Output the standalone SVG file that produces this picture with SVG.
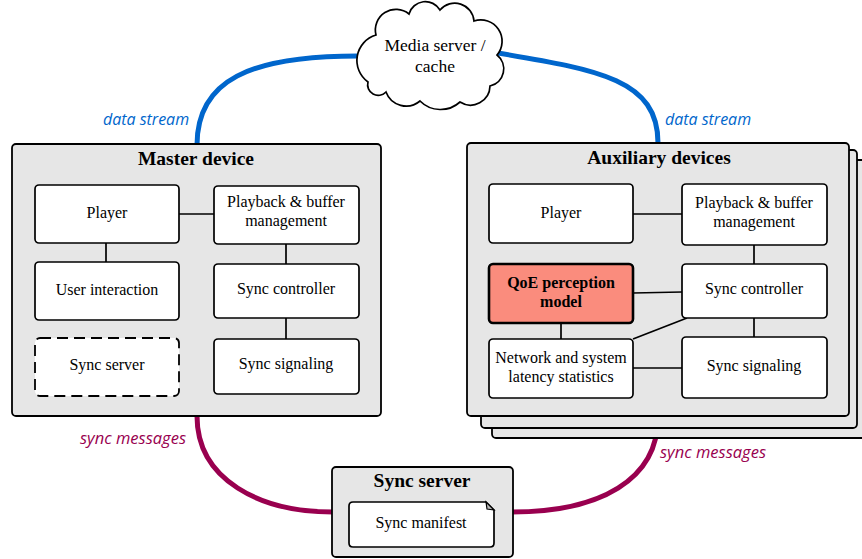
<svg xmlns="http://www.w3.org/2000/svg" width="862" height="559" viewBox="0 0 862 559">
<style>
.container{fill:#e6e6e6;stroke:#000;stroke-width:1.8}
.node{fill:#fff;stroke:#000;stroke-width:1.7}
.dashed{fill:#fff;stroke:#000;stroke-width:1.8;stroke-dasharray:11 6}
.qoe{fill:#fa8c7d;stroke:#000;stroke-width:2.6}
.t{font-family:"Liberation Serif","Times New Roman",serif;font-size:16px;fill:#000;text-anchor:middle}
.tb{font-family:"Liberation Serif","Times New Roman",serif;font-size:16px;font-weight:bold;fill:#000;text-anchor:middle}
.cloudt{font-family:"Liberation Serif","Times New Roman",serif;font-size:17.5px;fill:#000;text-anchor:middle}
.title{font-family:"Liberation Serif","Times New Roman",serif;font-size:19.5px;font-weight:bold;fill:#000;text-anchor:middle}
.link{stroke:#000;stroke-width:1.7;fill:none}
.blue{stroke:#0066cc;stroke-width:5;fill:none}
.purple{stroke:#99004f;stroke-width:5;fill:none}
.lblue{font-family:"Open Sans","Noto Sans",sans-serif;font-style:italic;font-size:16px;fill:#0066cc;text-anchor:middle}
.lpurple{font-family:"Open Sans","Noto Sans",sans-serif;font-style:italic;font-size:16.5px;fill:#99004f;text-anchor:middle}
</style>

<!-- long-range connectors -->
<g id="connectors-main">
  <path class="blue" d="M197,145 C197,80 250,56 358,56"/>
  <path class="blue" d="M498,53 C600,70 658,80 658,143"/>
  <path class="purple" d="M197,416 C197,480 260,512 333,512"/>
  <path class="purple" d="M658,417 C658,480 600,512 512,512"/>
  <text class="lblue" x="146" y="125">data stream</text>
  <text class="lblue" x="708" y="125">data stream</text>
  <text class="lpurple" x="133" y="444">sync messages</text>
  <text class="lpurple" x="713" y="458">sync messages</text>
</g>

<g id="media-server">
  <path d="M368,82 A26.5 26.5 0 0 1 376,35 A20.6 20.6 0 0 1 409,14 A17 17 0 0 1 440,10 A19.3 19.3 0 0 1 474,21 A21.3 21.3 0 0 1 497,55 A17.6 17.6 0 0 1 490,86 A19.5 19.5 0 0 1 460,102 A29 29 0 0 1 420,101 A21.5 21.5 0 0 1 386,92 A10.6 10.6 0 0 1 368,82 Z" fill="#fff" stroke="#000" stroke-width="1.7"/>
  <text class="cloudt" x="435" y="51">Media server /</text>
  <text class="cloudt" x="435" y="72">cache</text>
</g>

<!-- Master device -->
<g id="master-device">
  <rect class="container" x="12" y="144" width="369" height="272" rx="4"/>
  <text class="title" x="196" y="165">Master device</text>
</g>
<g id="master-connectors">
  <line class="link" x1="179" y1="214" x2="214" y2="214"/>
  <line class="link" x1="106" y1="243" x2="106" y2="262"/>
  <line class="link" x1="286" y1="244" x2="286" y2="264"/>
  <line class="link" x1="286" y1="318" x2="286" y2="339"/>
</g>
<g id="m-player">
  <rect class="node" x="35" y="185" width="144" height="58" rx="4"/>
  <text class="t" x="107" y="218">Player</text>
</g>
<g id="m-playback">
  <rect class="node" x="214" y="186" width="145" height="58" rx="4"/>
  <text class="t" x="286" y="207">Playback &amp; buffer</text>
  <text class="t" x="286" y="226">management</text>
</g>
<g id="m-user">
  <rect class="node" x="35" y="262" width="144" height="58" rx="4"/>
  <text class="t" x="107" y="295">User interaction</text>
</g>
<g id="m-syncctrl">
  <rect class="node" x="214" y="264" width="145" height="54" rx="4"/>
  <text class="t" x="286" y="294">Sync controller</text>
</g>
<g id="m-syncserver">
  <rect class="dashed" x="35" y="338" width="144" height="58" rx="5"/>
  <text class="t" x="107" y="370">Sync server</text>
</g>
<g id="m-syncsig">
  <rect class="node" x="214" y="339" width="145" height="55" rx="4"/>
  <text class="t" x="286" y="369">Sync signaling</text>
</g>

<!-- Auxiliary devices -->
<g id="aux-devices">
  <rect class="container" x="492" y="160" width="380" height="278" rx="4"/>
  <rect class="container" x="481" y="150" width="376" height="278" rx="4"/>
  <rect class="container" x="467" y="143" width="382" height="273" rx="4"/>
  <text class="title" x="659" y="164">Auxiliary devices</text>
</g>
<g id="aux-connectors">
  <line class="link" x1="633" y1="214" x2="682" y2="214"/>
  <line class="link" x1="754" y1="245" x2="754" y2="264"/>
  <line class="link" x1="633" y1="293" x2="682" y2="292"/>
  <line class="link" x1="561" y1="323" x2="561" y2="339"/>
  <line class="link" x1="633" y1="339" x2="687" y2="318"/>
  <line class="link" x1="754" y1="318" x2="754" y2="337"/>
  <line class="link" x1="633" y1="368" x2="682" y2="368"/>
</g>
<g id="a-player">
  <rect class="node" x="489" y="184" width="144" height="59" rx="4"/>
  <text class="t" x="561" y="218">Player</text>
</g>
<g id="a-playback">
  <rect class="node" x="682" y="184" width="145" height="61" rx="4"/>
  <text class="t" x="754" y="208">Playback &amp; buffer</text>
  <text class="t" x="754" y="227">management</text>
</g>
<g id="a-qoe">
  <rect class="qoe" x="489" y="264" width="144" height="59" rx="4"/>
  <text class="tb" x="561" y="288">QoE perception</text>
  <text class="tb" x="561" y="307">model</text>
</g>
<g id="a-syncctrl">
  <rect class="node" x="682" y="264" width="145" height="54" rx="4"/>
  <text class="t" x="754" y="294">Sync controller</text>
</g>
<g id="a-network">
  <rect class="node" x="489" y="339" width="144" height="59" rx="4"/>
  <text class="t" x="561" y="363">Network and system</text>
  <text class="t" x="561" y="382">latency statistics</text>
</g>
<g id="a-syncsig">
  <rect class="node" x="682" y="337" width="145" height="61" rx="4"/>
  <text class="t" x="754" y="371">Sync signaling</text>
</g>

<!-- Sync server -->
<g id="sync-server">
  <rect class="container" x="332" y="467" width="181" height="90" rx="4"/>
  <text class="title" x="422" y="487">Sync server</text>
</g>
<g id="sync-manifest">
  <path d="M353,502 L486,502 L494,510 L494,543 Q494,547 490,547 L353,547 Q349,547 349,543 L349,506 Q349,502 353,502 Z" fill="#fff" stroke="#000" stroke-width="1.7"/>
  <path d="M486,502 L487,509 L494,510 Z" fill="#bbb" stroke="#000" stroke-width="1.2"/>
  <text class="t" x="421" y="528">Sync manifest</text>
</g>
</svg>
